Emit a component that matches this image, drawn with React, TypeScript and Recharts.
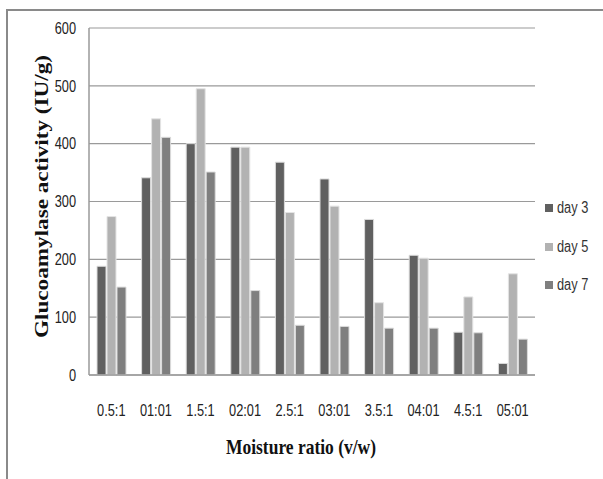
import React from 'react';
import { BarChart, Bar, XAxis, YAxis, CartesianGrid, Legend } from 'recharts';

const categories = ['0.5:1', '01:01', '1.5:1', '02:01', '2.5:1', '03:01', '3.5:1', '04:01', '4.5:1', '05:01'];
const day3 = [188, 341, 400, 394, 368, 339, 269, 207, 74, 20];
const day5 = [274, 443, 495, 394, 281, 292, 125, 202, 135, 175];
const day7 = [152, 411, 351, 146, 86, 84, 81, 81, 73, 62];
const seriesNames = ['day 3', 'day 5', 'day 7'];
const yTicks = [0, 100, 200, 300, 400, 500, 600];

const data = categories.map((c, i) => ({ cat: c, d3: day3[i], d5: day5[i], d7: day7[i] }));

const SANS = '"Liberation Sans", Arial, sans-serif';
const SERIF = '"Liberation Serif", "Times New Roman", serif';
const SQUEEZE = 0.8;

const XTick = (props: any) => {
  const { x, y, payload } = props;
  return (
    <g transform={`translate(${x},${y}) scale(${SQUEEZE},1)`}>
      <text x={0} y={0} dy="0.71em" textAnchor="middle" fontFamily={SANS} fontSize={16} fill="#222">
        {payload.value}
      </text>
    </g>
  );
};

const YTick = (props: any) => {
  const { x, y, payload } = props;
  return (
    <g transform={`translate(${x},${y}) scale(${SQUEEZE},1)`}>
      <text x={0} y={0} dy="0.355em" textAnchor="end" fontFamily={SANS} fontSize={16} fill="#222">
        {payload.value}
      </text>
    </g>
  );
};

const YLabel = () => (
  <text
    x={42}
    y={196.5}
    transform="rotate(-90, 42, 196.5)"
    textAnchor="middle"
    dominantBaseline="central"
    fontFamily={SERIF}
    fontWeight="bold"
    fontSize={18}
    fill="#111"
    textLength={283}
    lengthAdjust="spacingAndGlyphs"
  >
    Glucoamylase activity (IU/g)
  </text>
);

const XLabel = () => (
  <text
    x={301}
    y={446}
    textAnchor="middle"
    dominantBaseline="central"
    fontFamily={SERIF}
    fontWeight="bold"
    fontSize={22}
    fill="#111"
    textLength={150}
    lengthAdjust="spacingAndGlyphs"
  >
    Moisture ratio (v/w)
  </text>
);

const LegendContent = (props: any) => {
  const payload = props.payload || [];
  return (
    <div>
      {payload.map((p: any) => (
        <div key={p.value} style={{ display: 'flex', alignItems: 'center', height: 38.5 }}>
          <span style={{ display: 'inline-block', width: 8, height: 8, background: p.color, marginRight: 4, flex: 'none' }} />
          <span
            style={{
              display: 'inline-block',
              fontFamily: SANS,
              fontSize: 16,
              color: '#333',
              transform: `scaleX(${SQUEEZE})`,
              transformOrigin: 'left center',
              whiteSpace: 'nowrap',
            }}
          >
            {p.value}
          </span>
        </div>
      ))}
    </div>
  );
};

export default function App() {
  return (
    <div
      style={{
        position: 'absolute',
        left: 0,
        top: 0,
        width: 603,
        height: 479,
        background: '#fff',
        overflow: 'hidden',
      }}
    >
      <div
        style={{
          position: 'absolute',
          left: 6,
          top: 9,
          width: 620,
          height: 500,
          borderTop: '2px solid #8a8a8a',
          borderLeft: '2px solid #8a8a8a',
        }}
      />
      <div style={{ position: 'absolute', left: 0, top: 0 }}>
        <BarChart
          width={603}
          height={479}
          data={data}
          margin={{ top: 28, right: 68, left: 0, bottom: 44 }}
          barSize={9}
          barGap={1}
        >
          <CartesianGrid horizontal={true} vertical={false} stroke="#9a9a9a" strokeWidth={1.2} />
          <XAxis
            dataKey="cat"
            height={60}
            tickLine={false}
            tickMargin={24}
            axisLine={{ stroke: '#9a9a9a', strokeWidth: 1.5 }}
            tick={<XTick />}
            interval={0}
            label={<XLabel />}
          />
          <YAxis
            width={89}
            domain={[0, 600]}
            ticks={yTicks}
            tickLine={false}
            tickMargin={7}
            axisLine={{ stroke: '#9a9a9a', strokeWidth: 1.5 }}
            tick={<YTick />}
            label={<YLabel />}
          />
          <Legend
            layout="vertical"
            align="center"
            verticalAlign="middle"
            wrapperStyle={{ left: 545, top: 189, width: 58 }}
            content={<LegendContent />}
          />
          <Bar dataKey="d3" name={seriesNames[0]} fill="#606060" stroke="#dcdcdc" strokeWidth={1} isAnimationActive={false} />
          <Bar dataKey="d5" name={seriesNames[1]} fill="#b2b2b2" stroke="#e4e4e4" strokeWidth={1} isAnimationActive={false} />
          <Bar dataKey="d7" name={seriesNames[2]} fill="#7f7f7f" stroke="#dcdcdc" strokeWidth={1} isAnimationActive={false} />
        </BarChart>
      </div>
    </div>
  );
}
